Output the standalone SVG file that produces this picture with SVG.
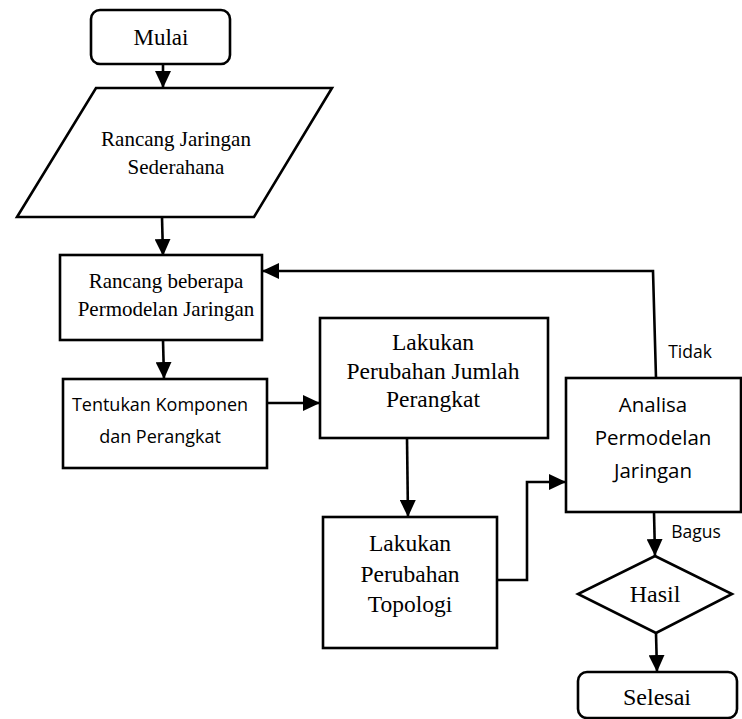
<svg xmlns="http://www.w3.org/2000/svg" width="742" height="719" viewBox="0 0 742 719">
<style>
.s{fill:#fff;stroke:#000;stroke-width:2.6}
.c{fill:none;stroke:#000;stroke-width:2.6}
.t{font-family:"Liberation Serif",serif;fill:#000;text-anchor:middle}
.n{font-family:"Open Sans","Liberation Sans",sans-serif;fill:#000;text-anchor:middle}
</style>
<defs>
<marker id="a" markerUnits="userSpaceOnUse" markerWidth="18" markerHeight="16" refX="17" refY="8" orient="auto">
<path d="M0,0 L17,8 L0,16 Z" fill="#000"/>
</marker>
</defs>
<rect width="742" height="719" fill="#fff"/>
<g id="connectors">
<line class="c" x1="163" y1="64" x2="163" y2="88" marker-end="url(#a)"/>
<line class="c" x1="162" y1="217" x2="163" y2="256" marker-end="url(#a)"/>
<line class="c" x1="163" y1="340" x2="164" y2="379" marker-end="url(#a)"/>
<line class="c" x1="267" y1="403" x2="320" y2="403" marker-end="url(#a)"/>
<polyline class="c" points="656,378 653,271 262,271" marker-end="url(#a)"/>
<line class="c" x1="407" y1="438" x2="408" y2="517" marker-end="url(#a)"/>
<polyline class="c" points="497,580 527,580 527,482 566,482" marker-end="url(#a)"/>
<line class="c" x1="654" y1="512" x2="655" y2="556" marker-end="url(#a)"/>
<line class="c" x1="656" y1="633" x2="657" y2="672" marker-end="url(#a)"/>
<text class="n" x="690" y="358" font-size="17.5">Tidak</text>
<text class="n" x="696" y="538" font-size="17.5">Bagus</text>
</g>
<g id="mulai">
<rect class="s" x="91" y="10" width="139" height="54" rx="9"/>
<text class="t" x="161" y="45" font-size="23">Mulai</text>
</g>
<g id="rancang-jaringan">
<polygon class="s" points="96,88 332,88 254,217 17,217"/>
<text class="t" x="176" y="146" font-size="21">Rancang Jaringan</text>
<text class="t" x="176" y="174" font-size="21">Sederahana</text>
</g>
<g id="rancang-beberapa">
<rect class="s" x="60" y="255" width="202" height="85"/>
<text class="t" x="166" y="288" font-size="21">Rancang beberapa</text>
<text class="t" x="166" y="316" font-size="21">Permodelan Jaringan</text>
</g>
<g id="tentukan">
<rect class="s" x="63" y="379" width="204" height="89"/>
<text class="n" x="160" y="411" font-size="18">Tentukan Komponen</text>
<text class="n" x="160" y="443" font-size="18">dan Perangkat</text>
</g>
<g id="jumlah">
<rect class="s" x="320" y="318" width="228" height="120"/>
<text class="t" x="433" y="350" font-size="23.5">Lakukan</text>
<text class="t" x="433" y="379" font-size="23.5">Perubahan Jumlah</text>
<text class="t" x="433" y="407" font-size="23.5">Perangkat</text>
</g>
<g id="topologi">
<rect class="s" x="323" y="517" width="174" height="131"/>
<text class="t" x="410" y="551" font-size="23.5">Lakukan</text>
<text class="t" x="410" y="582" font-size="23.5">Perubahan</text>
<text class="t" x="410" y="612" font-size="23.5">Topologi</text>
</g>
<g id="analisa">
<rect class="s" x="566" y="378" width="175" height="134"/>
<text class="n" x="653" y="412" font-size="20.5">Analisa</text>
<text class="n" x="653" y="445" font-size="20.5">Permodelan</text>
<text class="n" x="653" y="478" font-size="20.5">Jaringan</text>
</g>
<g id="hasil">
<polygon class="s" points="655,556 732,594 656,633 578,594"/>
<text class="t" x="655" y="602" font-size="24">Hasil</text>
</g>
<g id="selesai">
<rect class="s" x="578" y="672" width="159" height="46" rx="9"/>
<text class="t" x="657" y="705" font-size="24">Selesai</text>
</g>
</svg>
